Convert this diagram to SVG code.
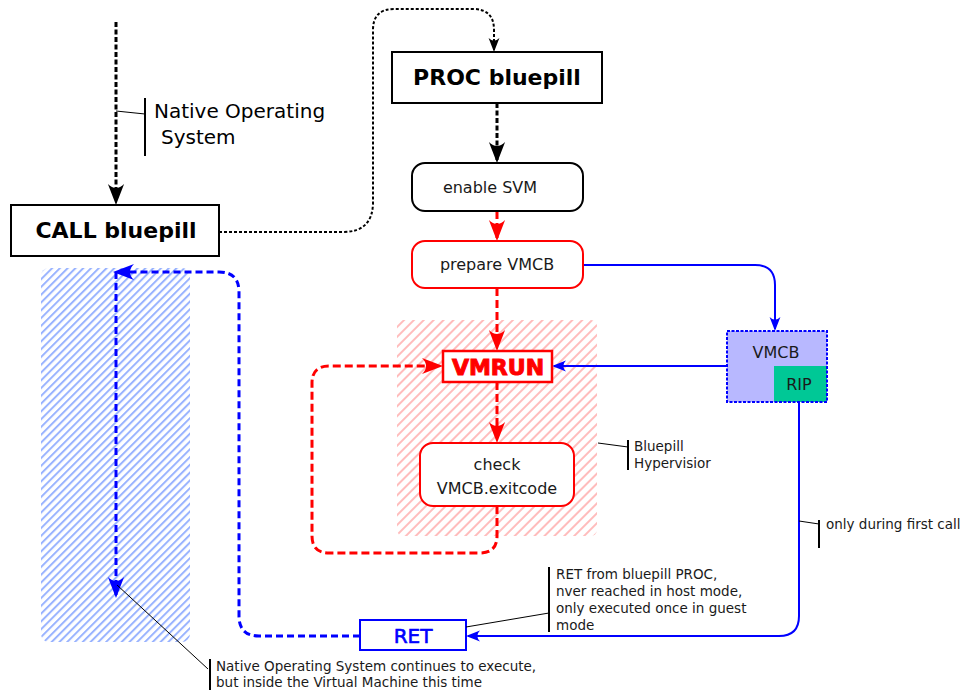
<svg xmlns="http://www.w3.org/2000/svg" width="962" height="690" viewBox="0 0 962 690">
  <style>
    text { font-family: "DejaVu Sans", "Liberation Sans", sans-serif; fill: #000; }
    .box { fill: #fff; stroke: #000; stroke-width: 2; }
    .rbox { fill: #fff; stroke: #ff0000; stroke-width: 2; }
    .title { font-weight: bold; font-size: 22px; text-anchor: middle; }
    .lbl { font-size: 16px; text-anchor: middle; fill: #1a1a1a; }
    .note { font-size: 13.5px; fill: #1a1a1a; }
    .lead { stroke: #000; stroke-width: 1; fill: none; }
    .brk { stroke: #000; stroke-width: 2; fill: none; }
    .kdash { stroke: #000; stroke-width: 3; stroke-dasharray: 5,2.5; fill: none; marker-end: url(#ak); }
    .kdot { stroke: #000; stroke-width: 2; stroke-dasharray: 3,2; fill: none; marker-end: url(#ak); }
    .rdash { stroke: #ff0000; stroke-width: 3; stroke-dasharray: 8,4; fill: none; marker-end: url(#ar); }
    .bdash { stroke: #0000ff; stroke-width: 3; stroke-dasharray: 7,4; fill: none; marker-end: url(#ab); }
    .bline { stroke: #0000ff; stroke-width: 2; fill: none; marker-end: url(#ab); }
  </style>
  <defs>
    <marker id="ak" markerUnits="strokeWidth" orient="auto" refX="-1" refY="0" markerWidth="10" markerHeight="10" overflow="visible">
      <path d="M0,0 L-7,-2.7 Q-4.3,0 -7,2.7 Z" fill="#000"/>
    </marker>
    <marker id="ar" markerUnits="strokeWidth" orient="auto" refX="-1" refY="0" markerWidth="10" markerHeight="10" overflow="visible">
      <path d="M0,0 L-7,-2.7 Q-4.3,0 -7,2.7 Z" fill="#ff0000"/>
    </marker>
    <marker id="ab" markerUnits="strokeWidth" orient="auto" refX="-1" refY="0" markerWidth="10" markerHeight="10" overflow="visible">
      <path d="M0,0 L-7,-2.7 Q-4.3,0 -7,2.7 Z" fill="#0000ff"/>
    </marker>
    <pattern id="hatchBlue" patternUnits="userSpaceOnUse" width="5.5" height="10" patternTransform="rotate(45)">
      <line x1="1" y1="0" x2="1" y2="10" stroke="#99b3ff" stroke-width="2"/>
    </pattern>
    <pattern id="hatchRed" patternUnits="userSpaceOnUse" width="7" height="10" patternTransform="rotate(45)">
      <line x1="1" y1="0" x2="1" y2="10" stroke="#ffbcbc" stroke-width="2"/>
    </pattern>
  </defs>

  <!-- shaded regions -->
  <g id="guest-os-area">
    <rect x="41" y="268" width="149" height="374" rx="8" fill="url(#hatchBlue)"/>
  </g>
  <g id="hypervisor-area">
    <rect x="397" y="320" width="200" height="216" rx="6" fill="url(#hatchRed)"/>
  </g>

  <!-- connectors -->
  <g id="connectors">
    <path class="kdash" d="M116,22 L116,202"/>
    <path class="kdot" d="M219,232 L343,232 Q373,232 373,202 L373,30 Q373,9 394,9 L473,9 Q494,9 494,30 L494,50"/>
    <path class="kdash" d="M497,103 L497,160"/>
    <path class="rdash" d="M497,211 L497,238"/>
    <path class="rdash" d="M497,288 L497,348"/>
    <path class="rdash" d="M497,382 L497,440"/>
    <path class="rdash" d="M497,506 L497,536 Q497,553 480,553 L329,553 Q312,553 312,536 L312,383 Q312,366 329,366 L440,366"/>
    <path class="bline" d="M583,265 L755,265 Q775,265 775,285 L775,329"/>
    <path class="bline" d="M727,366 L554,366"/>
    <path class="bline" d="M799,402 L799,616 Q799,636 779,636 L468,636"/>
    <path class="bdash" d="M360,636 L259,636 Q239,636 239,616 L239,292 Q239,272 219,272 L116,272"/>
    <path class="bdash" d="M116,272 L116,595"/>
  </g>

  <!-- nodes -->
  <g id="call-bluepill">
    <rect class="box" x="11" y="205" width="208" height="51"/>
    <text class="title" x="116" y="238">CALL bluepill</text>
  </g>
  <g id="proc-bluepill">
    <rect class="box" x="392" y="52" width="210" height="51"/>
    <text class="title" x="497" y="85">PROC bluepill</text>
  </g>
  <g id="enable-svm">
    <rect class="box" x="412" y="163" width="171" height="48" rx="13"/>
    <text class="lbl" x="490" y="193">enable SVM</text>
  </g>
  <g id="prepare-vmcb">
    <rect class="rbox" x="412" y="241" width="171" height="47" rx="13"/>
    <text class="lbl" x="497" y="270">prepare VMCB</text>
  </g>
  <g id="vmrun">
    <rect x="443" y="351" width="109" height="31" fill="#fff" stroke="#ff0000" stroke-width="2.5"/>
    <text x="498" y="375" font-size="22" font-weight="bold" text-anchor="middle" style="fill:#ff0000" stroke="#ff0000" stroke-width="1">VMRUN</text>
  </g>
  <g id="check-exitcode">
    <rect class="rbox" x="420" y="443" width="154" height="63" rx="13"/>
    <text class="lbl" x="497" y="470">check</text>
    <text class="lbl" x="497" y="494">VMCB.exitcode</text>
  </g>
  <g id="vmcb">
    <rect x="727" y="331" width="100" height="71" fill="#b8b8ff"/>
    <rect x="774" y="366" width="53" height="36" fill="#00c896"/>
    <rect x="727" y="331" width="100" height="71" fill="none" stroke="#0000ff" stroke-width="2" stroke-dasharray="3,1.5"/>
    <text class="lbl" x="776" y="358">VMCB</text>
    <text class="lbl" x="799" y="390">RIP</text>
  </g>
  <g id="ret">
    <rect x="360" y="620" width="106" height="30" fill="#fff" stroke="#0000ff" stroke-width="2"/>
    <text x="413" y="643" font-size="20" text-anchor="middle" style="fill:#0000ff" stroke="#0000ff" stroke-width="0.6">RET</text>
  </g>

  <!-- annotations -->
  <g id="note-native-os">
    <line class="lead" x1="116" y1="111" x2="145" y2="114"/>
    <line class="brk" x1="145" y1="98" x2="145" y2="156"/>
    <text x="154" y="118" font-size="20" fill="#1a1a1a">Native Operating</text>
    <text x="161" y="144" font-size="20" fill="#1a1a1a">System</text>
  </g>
  <g id="note-hypervisor">
    <line class="lead" x1="598" y1="443" x2="628" y2="447"/>
    <line class="brk" x1="628" y1="440" x2="628" y2="470"/>
    <text class="note" x="634" y="451">Bluepill</text>
    <text class="note" x="634" y="468">Hypervisior</text>
  </g>
  <g id="note-first-call">
    <line class="lead" x1="799" y1="521" x2="819" y2="524"/>
    <line class="brk" x1="819" y1="520" x2="819" y2="548"/>
    <text class="note" x="826" y="529">only during first call</text>
  </g>
  <g id="note-ret">
    <line class="lead" x1="466" y1="627" x2="549" y2="613"/>
    <line class="brk" x1="549" y1="567" x2="549" y2="632"/>
    <text class="note" x="556" y="579">RET from bluepill PROC,</text>
    <text class="note" x="556" y="596">nver reached in host mode,</text>
    <text class="note" x="556" y="613">only executed once in guest</text>
    <text class="note" x="556" y="630">mode</text>
  </g>
  <g id="note-continues">
    <line class="lead" x1="117" y1="585" x2="208" y2="669"/>
    <line class="brk" x1="210" y1="659" x2="210" y2="690"/>
    <text class="note" x="216" y="671">Native Operating System continues to execute,</text>
    <text class="note" x="216" y="687">but inside the Virtual Machine this time</text>
  </g>
</svg>
